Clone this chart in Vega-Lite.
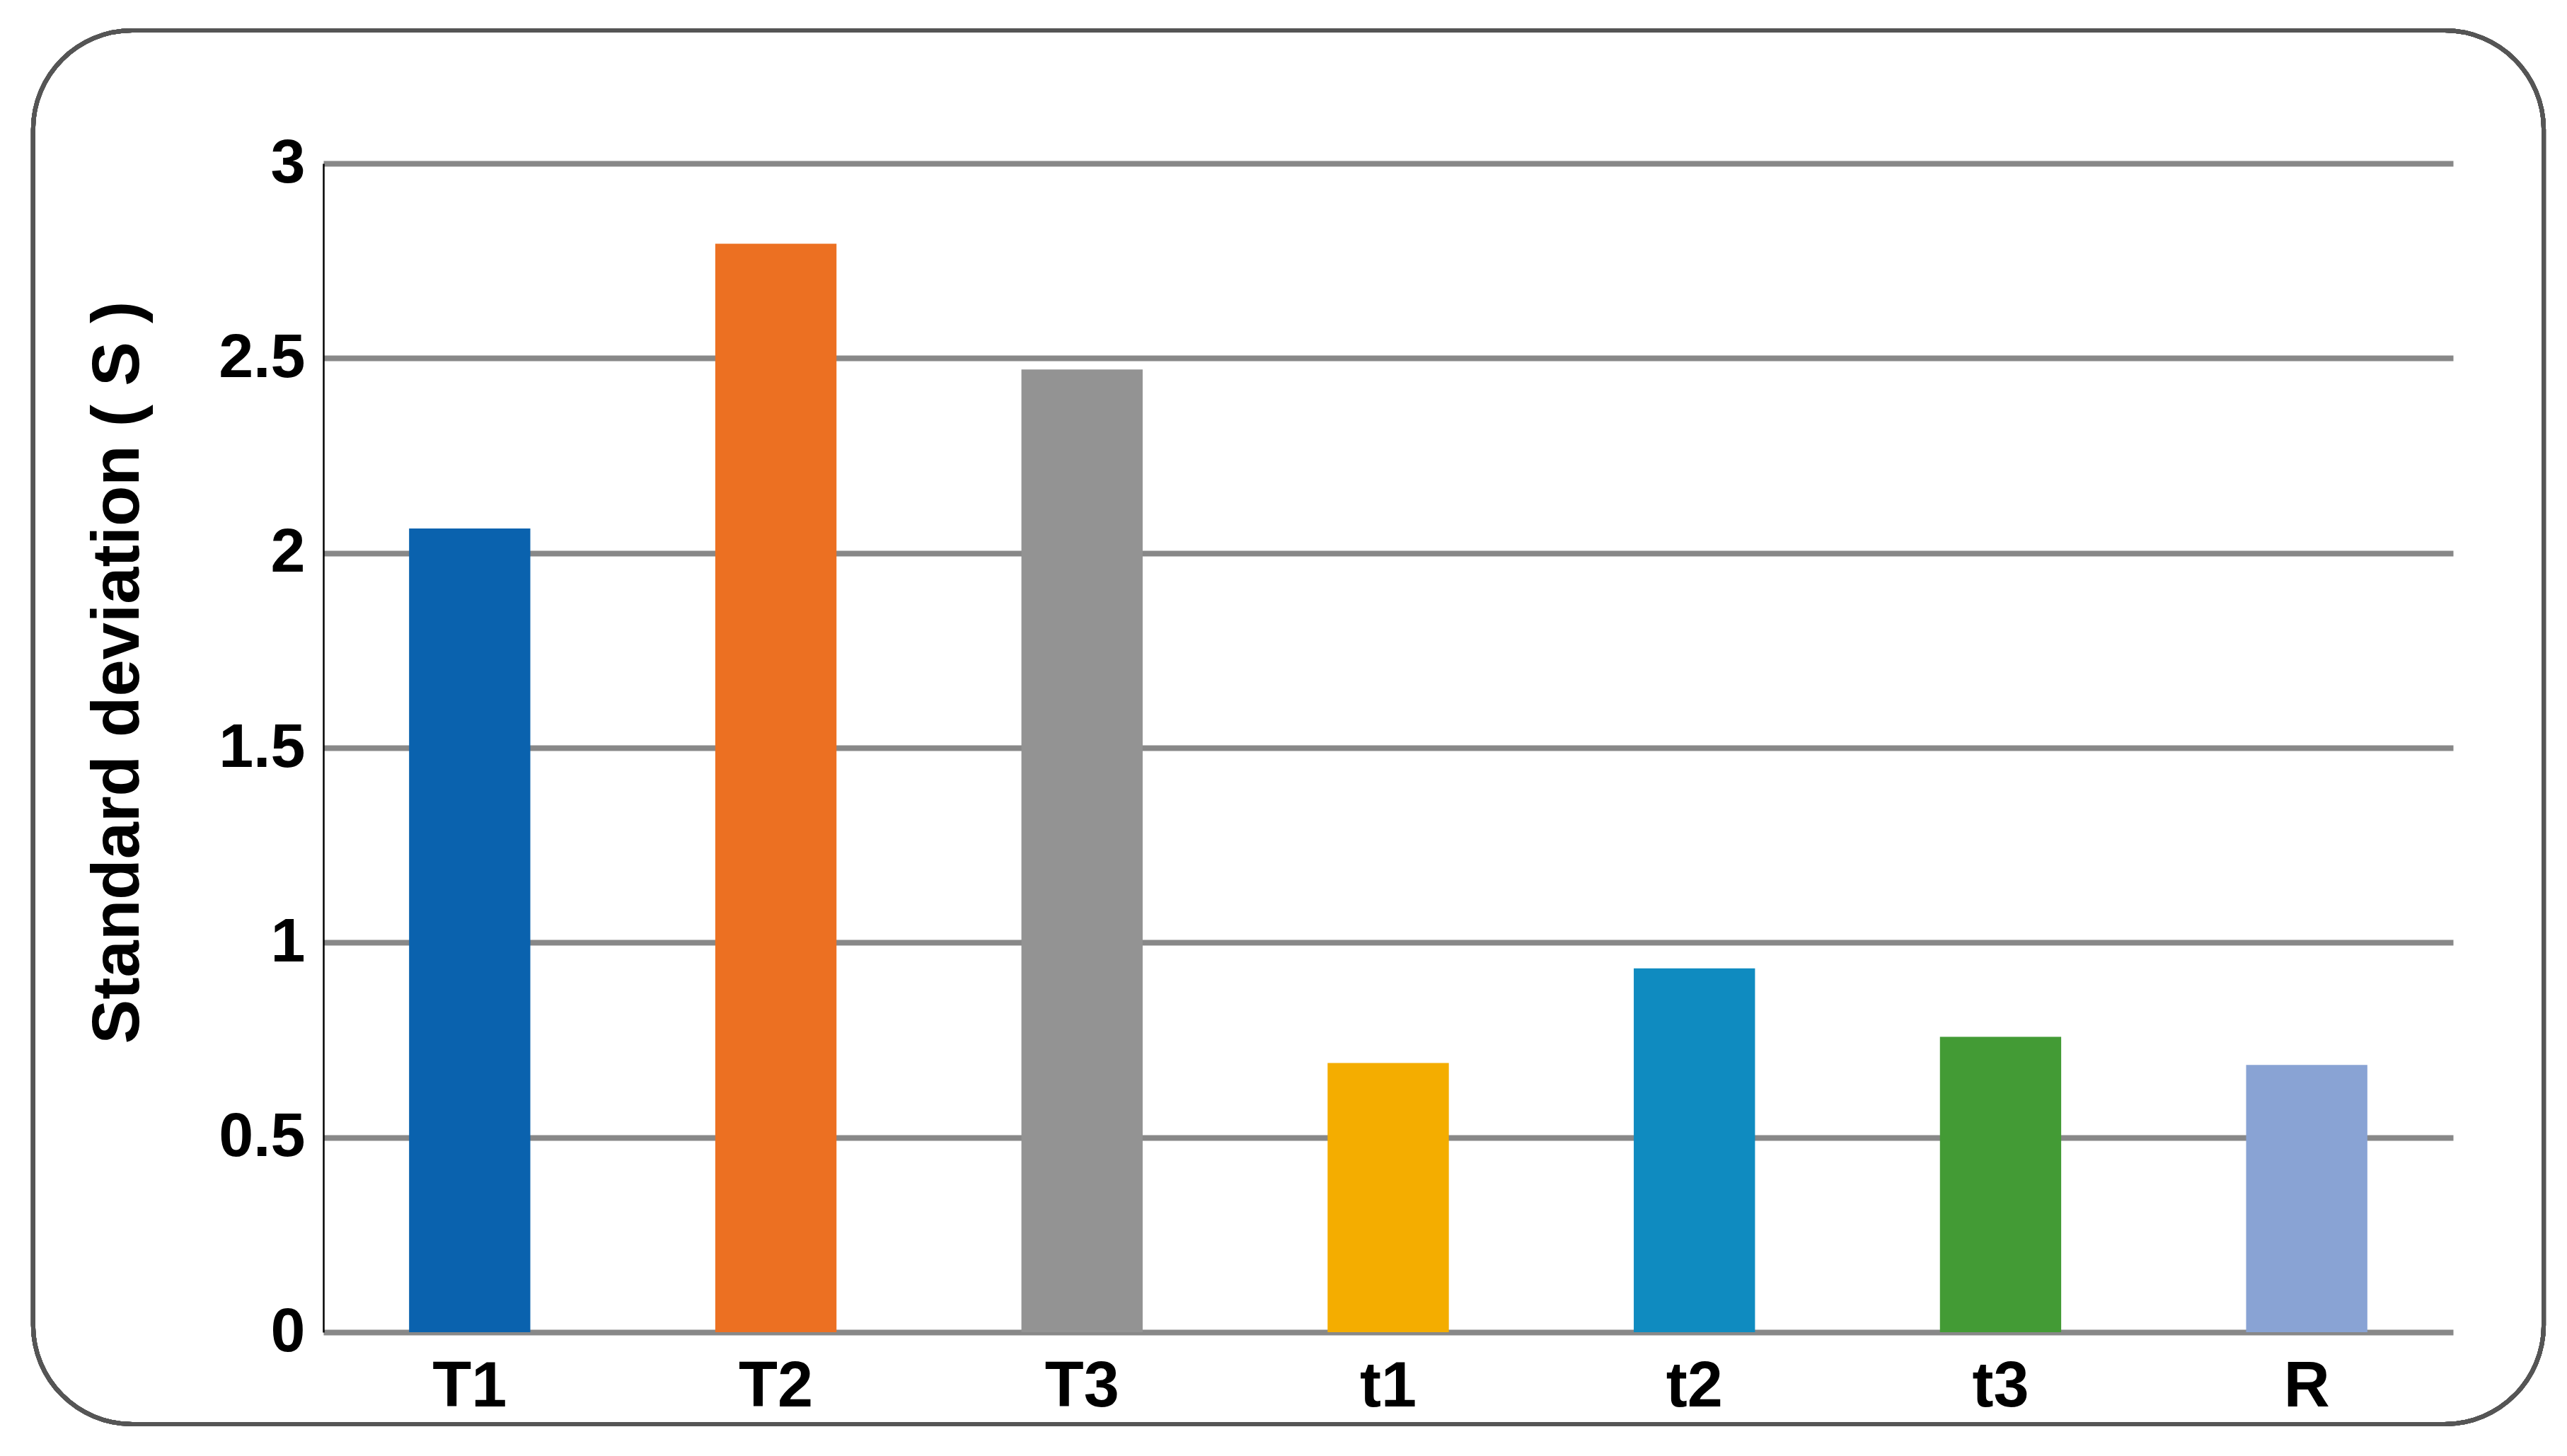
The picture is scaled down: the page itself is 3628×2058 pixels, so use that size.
{
  "$schema": "https://vega.github.io/schema/vega-lite/v6.json",
  "width": 3010,
  "height": 1652,
  "padding": {"left": 43, "top": 40, "right": 31, "bottom": 40},
  "background": "white",
  "config": {"view": {"stroke": null}},
  "data": {"values": [
    {"group": "T1", "sd": 2.063},
    {"group": "T2", "sd": 2.794},
    {"group": "T3", "sd": 2.471},
    {"group": "t1", "sd": 0.691},
    {"group": "t2", "sd": 0.934},
    {"group": "t3", "sd": 0.758},
    {"group": "R", "sd": 0.686}
  ]},
  "layer": [
    {
      "mark": {"type": "bar"},
      "encoding": {
        "x": {
          "field": "group", "type": "nominal", "sort": null,
          "scale": {"paddingInner": 0.604, "paddingOuter": 0.28},
          "axis": {
            "title": null, "domain": false, "ticks": false,
            "labelAngle": 0, "labelFont": "Liberation Sans", "labelFontWeight": "bold",
            "labelFontSize": 90, "labelColor": "#000", "labelPadding": 33, "labelBaseline": "top"
          }
        },
        "y": {
          "field": "sd", "type": "quantitative",
          "scale": {"domain": [0, 3], "nice": false},
          "axis": {
            "title": "Standard  deviation ( S )",
            "values": [0, 0.5, 1, 1.5, 2, 2.5, 3],
            "format": "~g",
            "grid": true, "gridColor": "#888888", "gridWidth": 8,
            "domain": true, "domainColor": "#000", "domainWidth": 2.5,
            "ticks": false, "labelPadding": 26,
            "labelFont": "Liberation Sans", "labelFontWeight": "bold", "labelFontSize": 88, "labelColor": "#000",
            "titleFont": "Liberation Sans", "titleFontWeight": "bold", "titleFontSize": 94, "titleColor": "#000",
            "titleX": -262, "titleY": 719, "titleBaseline": "alphabetic", "titleAlign": "center", "titleAngle": -90
          }
        },
        "color": {
          "field": "group", "type": "nominal", "sort": null, "legend": null,
          "scale": {
            "domain": ["T1", "T2", "T3", "t1", "t2", "t3", "R"],
            "range": ["#0a62ae", "#ec7022", "#939393", "#f4ad00", "#0f8bc0", "#439b35", "#89a3d4"]
          }
        }
      }
    },
    {
      "mark": {"type": "rect", "fillOpacity": 0, "stroke": "#555555", "strokeWidth": 6, "cornerRadius": 140, "clip": false},
      "encoding": {
        "x": {"datum": 0, "type": "quantitative", "scale": {"domain": [0.1156, 0.9639], "nice": false, "zero": false}, "axis": null},
        "x2": {"datum": 1},
        "y": {"datum": 1, "type": "quantitative", "scale": {"domain": [0.066, 0.9046], "nice": false, "zero": false}, "axis": null},
        "y2": {"datum": 0}
      }
    }
  ],
  "resolve": {"scale": {"x": "independent", "y": "independent", "color": "independent"}}
}
